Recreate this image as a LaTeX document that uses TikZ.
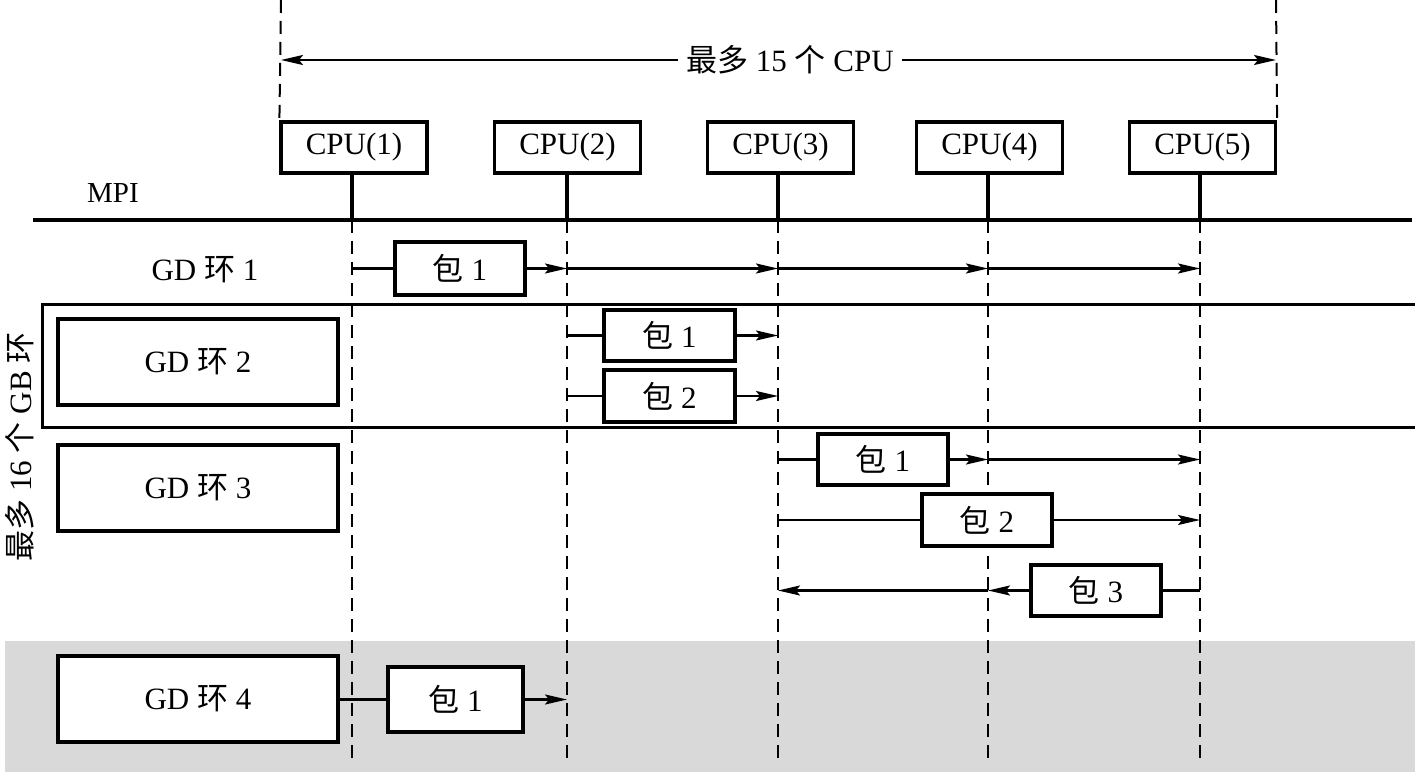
\documentclass[tikz,border=0pt]{standalone}
\usepackage{fontspec}
\setmainfont{Liberation Serif}
\newfontfamily\cjk{Noto Sans CJK SC}
\newcommand\zh[1]{{\cjk #1}}
\usetikzlibrary{arrows.meta}
\begin{document}
\begin{tikzpicture}[x=1pt,y=-1pt,
  font=\fontsize{31}{35}\selectfont,
  boxed/.style={draw, line width=3.2pt, fill=white, inner sep=0pt},
  cpubox/.style={boxed, minimum width=146pt, minimum height=51pt},
  gdbox/.style={boxed, minimum width=280pt, minimum height=86pt},
  pkt/.style={boxed, minimum width=131pt, minimum height=52pt},
  conn/.style={line width=2.2pt},
  arr/.style={conn, -{Stealth[length=22pt,width=10pt,inset=4pt]}},
  vdash/.style={line width=2pt, dash pattern=on 13pt off 8pt},
  stem/.style={line width=4pt}]
\useasboundingbox (0,0) rectangle (1415,775);
% grey band
\fill[black!15] (5,641) rectangle (1415,772);
% column lines
\foreach \i/\x in {1/352,2/567,3/778,4/988,5/1200}{
  \coordinate (L\i) at (\x,220);
  \coordinate (B\i) at (\x,760);
  \draw[vdash] (L\i) -- (B\i);
}
% CPU boxes
\node[cpubox] (cpu1) at (354,147.5) {CPU(1)};
\node[cpubox] (cpu2) at (567.5,147.5) {CPU(2)};
\node[cpubox] (cpu3) at (780.5,147.5) {CPU(3)};
\node[cpubox] (cpu4) at (989.5,147.5) {CPU(4)};
\node[cpubox] (cpu5) at (1202.5,147.5) {CPU(5)};
\foreach \i in {1,...,5}{
  \draw[stem] (cpu\i.south -| L\i) -- (L\i);
}
% top span
\coordinate (T1) at (281,0);
\coordinate (T2) at (1276,0);
\draw[vdash] (T1) -- (cpu1.north west);
\draw[vdash] (T2) -- (cpu5.north east);
\coordinate (A1) at (281,60);
\coordinate (A2) at (1276,60);
\node[fill=white, inner xsep=8pt] (span) at (790,60) {\zh{最多} 15 \zh{个} CPU};
\draw[arr] (span) -- (A1);
\draw[arr] (span) -- (A2);
% MPI bus
\coordinate (M1) at (33,220);
\coordinate (M2) at (1412,220);
\draw[line width=4.5pt] (M1) -- (M2);
\node[font=\fontsize{29}{32}\selectfont] (mpi) at (113,193) {MPI};
% GB ring frame
\node[draw, line width=3.2pt, minimum width=1400pt, minimum height=123pt, anchor=north west, inner sep=0pt] (gb) at (41,303) {};
\node[rotate=90] (gblabel) at (20,447) {\zh{最多} 16 \zh{个} GB \zh{环}};
% GD ring 1
\node (gd1) at (205,270) {GD \zh{环} 1};
\node[pkt, minimum width=130pt, minimum height=53pt] (r1p1) at (460,268.5) {\zh{包} 1};
\draw[conn] (L1 |- r1p1) -- (r1p1.west);
\draw[arr] (r1p1.east) -- (L2 |- r1p1);
\draw[arr] (L2 |- r1p1) -- (L3 |- r1p1);
\draw[arr] (L3 |- r1p1) -- (L4 |- r1p1);
\draw[arr] (L4 |- r1p1) -- (L5 |- r1p1);
% GD ring 2
\node[gdbox] (gd2) at (198,362) {GD \zh{环} 2};
\node[pkt, minimum height=51pt] (r2p1) at (669.5,335.5) {\zh{包} 1};
\node[pkt] (r2p2) at (669.5,396) {\zh{包} 2};
\draw[conn] (L2 |- r2p1) -- (r2p1.west);
\draw[arr] (r2p1.east) -- (L3 |- r2p1);
\draw[conn] (L2 |- r2p2) -- (r2p2.west);
\draw[arr] (r2p2.east) -- (L3 |- r2p2);
% GD ring 3
\node[gdbox] (gd3) at (198,488) {GD \zh{环} 3};
\node[pkt, minimum width=130pt, minimum height=51pt] (r3p1) at (883,459.5) {\zh{包} 1};
\node[pkt, minimum width=130pt] (r3p2) at (987,520) {\zh{包} 2};
\node[pkt, minimum width=130pt, minimum height=51pt] (r3p3) at (1096,590.5) {\zh{包} 3};
\draw[conn] (L3 |- r3p1) -- (r3p1.west);
\draw[arr] (r3p1.east) -- (L4 |- r3p1);
\draw[arr] (L4 |- r3p1) -- (L5 |- r3p1);
\draw[conn] (L3 |- r3p2) -- (r3p2.west);
\draw[arr] (r3p2.east) -- (L5 |- r3p2);
\draw[conn] (L5 |- r3p3) -- (r3p3.east);
\draw[arr] (r3p3.west) -- (L4 |- r3p3);
\draw[arr] (L4 |- r3p3) -- (L3 |- r3p3);
% GD ring 4
\node[gdbox] (gd4) at (198,699) {GD \zh{环} 4};
\node[pkt, minimum width=135pt, minimum height=65pt] (r4p1) at (455.5,699.5) {\zh{包} 1};
\draw[conn] (gd4.east |- r4p1) -- (r4p1.west);
\draw[arr] (r4p1.east) -- (L2 |- r4p1);
\end{tikzpicture}
\end{document}
